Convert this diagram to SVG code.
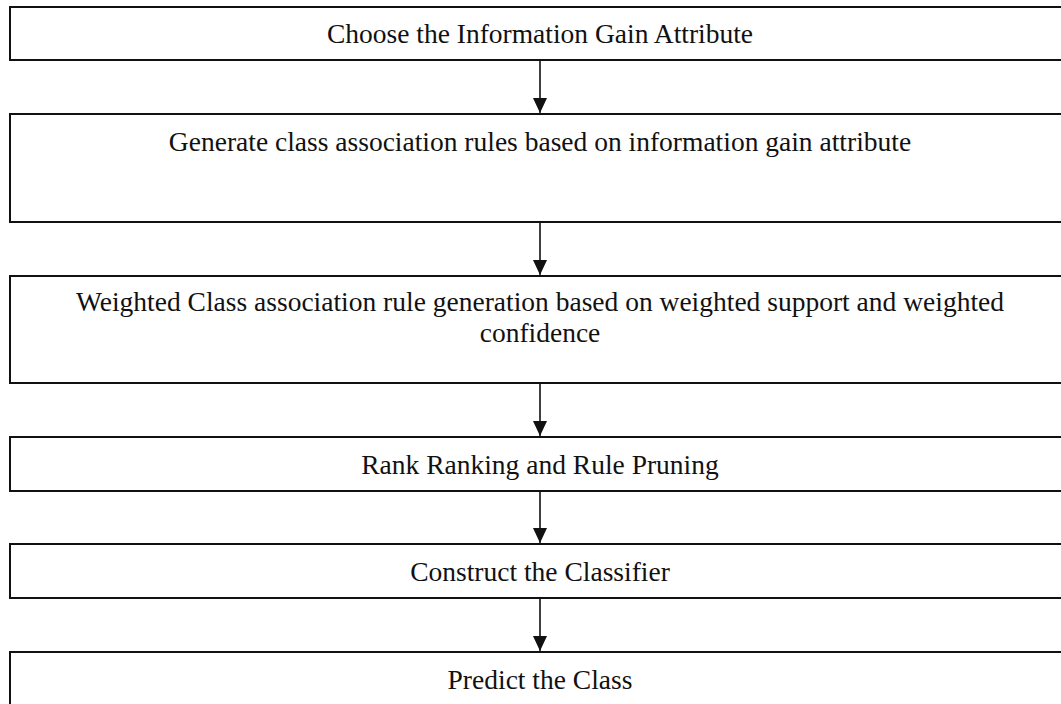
<svg xmlns="http://www.w3.org/2000/svg" width="1061" height="704" viewBox="0 0 1061 704">
<style>
.box{fill:#fff;stroke:#111;stroke-width:2}
.lbl{font-family:"Liberation Serif","Times New Roman",serif;font-size:27.5px;fill:#111;text-anchor:middle}
.conn{stroke:#111;stroke-width:1.6;fill:none}
</style>
<defs>
<marker id="ah" markerWidth="14" markerHeight="16" refX="15" refY="7" orient="auto" markerUnits="userSpaceOnUse">
<path d="M0,0 L15,7 L0,14 z" fill="#111"/>
</marker>
</defs>
<rect width="1061" height="704" fill="#fff"/>
<g id="n1"><rect class="box" x="10" y="7" width="1062" height="53"/><text class="lbl" x="540" y="43">Choose the Information Gain Attribute</text></g>
<g id="n2"><rect class="box" x="10" y="114" width="1062" height="108"/><text class="lbl" x="540" y="151">Generate class association rules based on information gain attribute</text></g>
<g id="n3"><rect class="box" x="10" y="276" width="1062" height="107"/><text class="lbl" x="540" y="311">Weighted Class association rule generation based on weighted support and weighted</text><text class="lbl" x="540" y="342">confidence</text></g>
<g id="n4"><rect class="box" x="10" y="437" width="1062" height="54"/><text class="lbl" x="540" y="474">Rank Ranking and Rule Pruning</text></g>
<g id="n5"><rect class="box" x="10" y="544" width="1062" height="54"/><text class="lbl" x="540" y="581">Construct the Classifier</text></g>
<g id="n6"><rect class="box" x="10" y="652" width="1062" height="60"/><text class="lbl" x="540" y="689">Predict the Class</text></g>
<g id="connectors">
<line class="conn" x1="540" y1="60" x2="540" y2="113" marker-end="url(#ah)"/>
<line class="conn" x1="540" y1="222" x2="540" y2="275" marker-end="url(#ah)"/>
<line class="conn" x1="540" y1="383" x2="540" y2="436" marker-end="url(#ah)"/>
<line class="conn" x1="540" y1="491" x2="540" y2="543" marker-end="url(#ah)"/>
<line class="conn" x1="540" y1="598" x2="540" y2="651" marker-end="url(#ah)"/>
</g>
</svg>
